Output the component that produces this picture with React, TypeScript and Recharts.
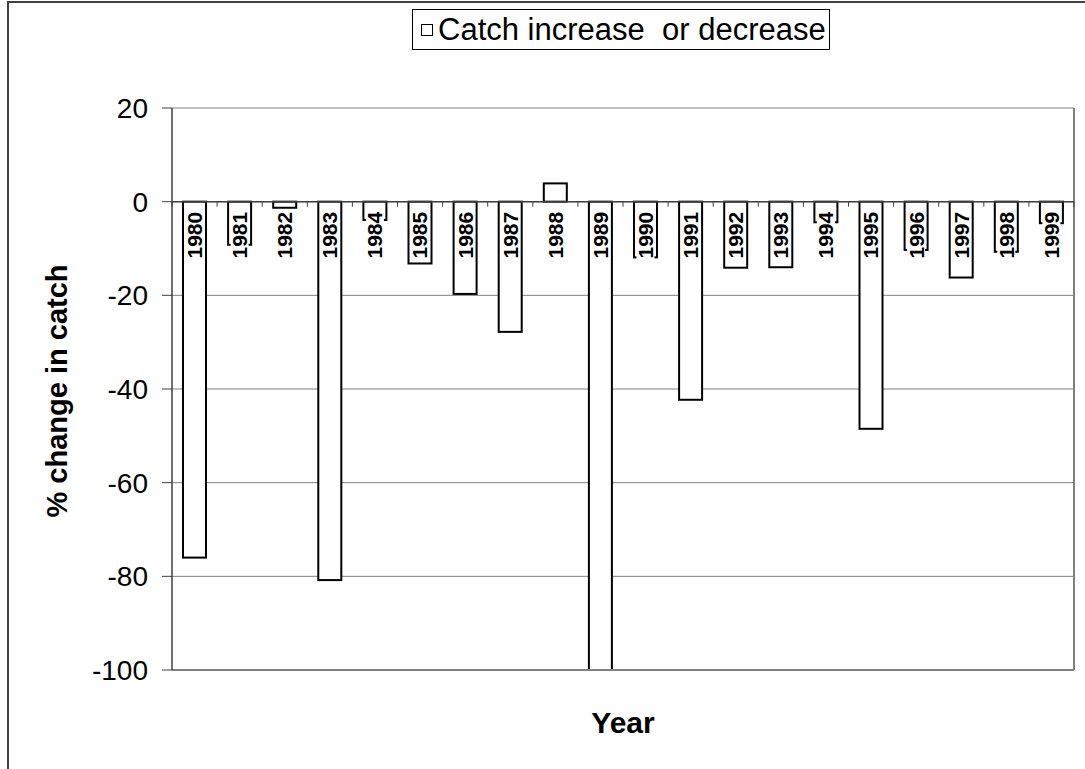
import { Bar, BarChart, CartesianGrid, Label, Legend, ReferenceLine, XAxis, YAxis } from "recharts";

const years = [
  "1980", "1981", "1982", "1983", "1984", "1985", "1986", "1987", "1988", "1989",
  "1990", "1991", "1992", "1993", "1994", "1995", "1996", "1997", "1998", "1999",
];
const changes = [
  -76, -9.2, -1.3, -80.8, -3.9, -13.2, -19.7, -27.8, 3.9, -100,
  -11.9, -42.3, -14.1, -14, -4.4, -48.5, -10.3, -16.2, -10.7, -4.6,
];
const yTicks = [20, 0, -20, -40, -60, -80, -100];
const seriesName = "Catch increase  or decrease";
const yTitle = "% change in catch";
const xTitle = "Year";

const FONT = '"Liberation Sans", Arial, sans-serif';
const AXIS = "#404040";
const GRID = "#808080";

// numeric x axis: one unit per year, bar centred at i + 0.5, ticks on the boundaries
const chartData = years.map((year, index) => ({ year, pos: index + 0.5, change: changes[index] }));
const boundaries = [...years.map((_, index) => index), years.length];

function YearBar(props: any) {
  const { x, y, width, height, payload } = props;
  const top = Math.min(y, y + height);
  const bottom = Math.max(y, y + height);
  const zeroY = payload.change >= 0 ? bottom : top;
  const cx = x + width / 2;
  const labelY = zeroY + 33.5;
  return (
    <g>
      <rect x={x} y={top} width={width} height={bottom - top} fill="#fff" stroke="#000" strokeWidth={2} />
      <rect x={cx - 9} y={zeroY + 9} width={18} height={49} fill="#fff" />
      <text
        x={cx}
        y={labelY}
        transform={`rotate(-90 ${cx} ${labelY})`}
        textAnchor="middle"
        dominantBaseline="central"
        fontFamily={FONT}
        fontWeight="bold"
        fontSize={21}
        fill="#000"
      >
        {payload.year}
      </text>
    </g>
  );
}

function LegendBox({ payload }: any) {
  const entry = payload?.[0];
  return (
    <div
      style={{
        boxSizing: "border-box",
        width: 418,
        height: 41,
        border: "1px solid #000",
        background: "#fff",
        display: "flex",
        alignItems: "center",
        paddingLeft: 8,
        fontFamily: FONT,
        fontSize: 31,
        color: "#000",
      }}
    >
      <span
        style={{
          width: 12,
          height: 12,
          border: "1px solid #000",
          boxSizing: "border-box",
          marginRight: 5,
          flex: "none",
        }}
      />
      <span style={{ whiteSpace: "pre", lineHeight: "39px" }}>{entry?.value ?? seriesName}</span>
    </div>
  );
}

export default function App() {
  return (
    <div
      style={{
        position: "absolute",
        left: 0,
        top: 0,
        width: 1085,
        height: 769,
        overflow: "hidden",
        background: "#fff",
        fontFamily: FONT,
      }}
    >
      <div
        style={{
          position: "absolute",
          left: 7,
          top: 1,
          width: 1076,
          height: 800,
          borderTop: `2px solid ${AXIS}`,
          borderLeft: `2px solid ${AXIS}`,
        }}
      />
      <div style={{ position: "absolute", left: 0, top: 0 }}>
        <BarChart width={1085} height={769} data={chartData} margin={{ top: 108, right: 11, bottom: 0, left: 0 }}>
          <CartesianGrid vertical={false} stroke={GRID} strokeWidth={1} />
          <XAxis
            type="number"
            dataKey="pos"
            domain={[0, years.length]}
            ticks={boundaries}
            allowDataOverflow
            tick={false}
            tickLine={false}
            axisLine={false}
            height={99}
          >
            <Label
              content={({ viewBox }: any) => (
                <text
                  x={viewBox.x + viewBox.width / 2}
                  y={viewBox.y + 63}
                  textAnchor="middle"
                  fontFamily={FONT}
                  fontWeight="bold"
                  fontSize={30}
                  fill="#000"
                >
                  {xTitle}
                </text>
              )}
            />
          </XAxis>
          <YAxis
            type="number"
            domain={[-100, 20]}
            ticks={yTicks}
            interval={0}
            allowDataOverflow
            width={172}
            tickSize={10}
            tickMargin={14}
            axisLine={{ stroke: AXIS, strokeWidth: 1.5 }}
            tickLine={{ stroke: AXIS }}
            tick={{ fill: "#000", fontSize: 28, fontFamily: FONT }}
          >
            <Label
              content={({ viewBox }: any) => {
                const tx = 67;
                const ty = viewBox.y + viewBox.height / 2 + 2;
                return (
                  <text
                    x={tx}
                    y={ty}
                    transform={`rotate(-90 ${tx} ${ty})`}
                    textAnchor="middle"
                    fontFamily={FONT}
                    fontWeight="bold"
                    fontSize={29}
                    fill="#000"
                  >
                    {yTitle}
                  </text>
                );
              }}
            />
          </YAxis>
          <Legend
            content={<LegendBox />}
            layout="horizontal"
            verticalAlign="middle"
            align="center"
            wrapperStyle={{ left: 412, top: 9, width: 418, height: 41 }}
          />
          <ReferenceLine y={-100} stroke={GRID} strokeWidth={2} />
          <ReferenceLine x={years.length} stroke={GRID} strokeWidth={2} />
          <Bar
            dataKey="change"
            name={seriesName}
            barSize={23}
            fill="#fff"
            stroke="#000"
            shape={(p: any) => <YearBar {...p} />}
            isAnimationActive={false}
          />
          <ReferenceLine y={0} stroke={AXIS} strokeWidth={1.5} />
          {boundaries.map((b) => (
            <ReferenceLine
              key={b}
              segment={[
                { x: b, y: 0 },
                { x: b, y: -1.07 },
              ]}
              stroke={AXIS}
            />
          ))}
        </BarChart>
      </div>
    </div>
  );
}
